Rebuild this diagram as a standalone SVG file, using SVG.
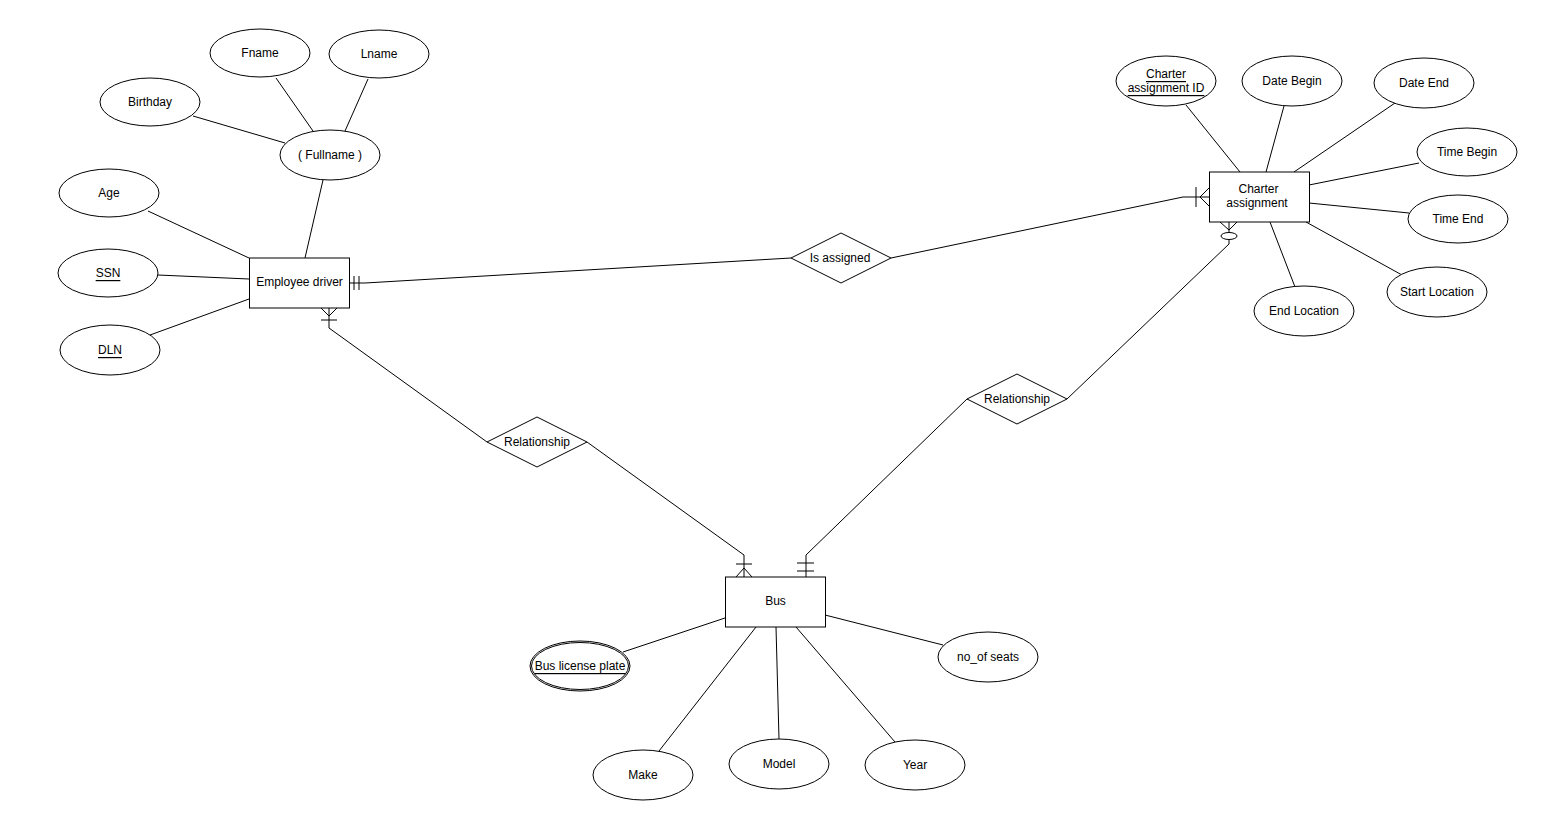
<svg xmlns="http://www.w3.org/2000/svg" width="1565" height="825" viewBox="0 0 1565 825">
<style>
.sh{fill:#fff;stroke:#000;stroke-width:1}
.ln{fill:none;stroke:#000;stroke-width:1}
.mk{fill:none;stroke:#000;stroke-width:1}
text{font-family:"Liberation Sans",Arial,Helvetica,sans-serif;font-size:12px;fill:#000;text-anchor:middle;dominant-baseline:central}
.u{text-decoration:underline}
</style>
<rect width="1565" height="825" fill="#fff"/>
<g id="connectors">
<line class="ln" x1="276" y1="78" x2="313" y2="131"/>
<line class="ln" x1="368" y1="79" x2="345" y2="131"/>
<line class="ln" x1="193" y1="116" x2="285" y2="143"/>
<line class="ln" x1="323" y1="180" x2="305" y2="258"/>
<line class="ln" x1="148" y1="211" x2="249" y2="258"/>
<line class="ln" x1="158" y1="275" x2="249" y2="279"/>
<line class="ln" x1="150" y1="335" x2="249" y2="299"/>
<line class="ln" x1="1186" y1="105" x2="1240" y2="172"/>
<line class="ln" x1="1284" y1="106" x2="1266" y2="172"/>
<line class="ln" x1="1395" y1="103" x2="1294" y2="172"/>
<line class="ln" x1="1419" y1="163" x2="1309" y2="185"/>
<line class="ln" x1="1409" y1="213" x2="1309" y2="203"/>
<line class="ln" x1="1402" y1="275" x2="1306" y2="222"/>
<line class="ln" x1="1295" y1="287" x2="1270" y2="222"/>
<line class="ln" x1="623" y1="652" x2="725" y2="618"/>
<line class="ln" x1="943" y1="645" x2="825" y2="615"/>
<line class="ln" x1="659" y1="751" x2="756" y2="627"/>
<line class="ln" x1="779" y1="739" x2="776" y2="627"/>
<line class="ln" x1="895" y1="742" x2="796" y2="627"/>
<polyline class="ln" points="349,283 365,283 791,258"/>
<line class="mk" x1="354" y1="276" x2="354" y2="290"/>
<line class="mk" x1="359" y1="276" x2="359" y2="290"/>
<polyline class="ln" points="891,258 1183,197 1209,197"/>
<line class="mk" x1="1196" y1="187" x2="1196" y2="207"/>
<polyline class="mk" points="1209,188 1200,197 1209,206"/>
<polyline class="ln" points="329,308 329,328 487,442"/>
<line class="mk" x1="321" y1="320" x2="337" y2="320"/>
<polyline class="mk" points="321,308 329,316 337,308"/>
<polyline class="ln" points="587,442 744,555 744,577"/>
<line class="mk" x1="736" y1="564" x2="752" y2="564"/>
<polyline class="mk" points="736,577 744,568 752,577"/>
<polyline class="ln" points="806,577 806,555 967,399"/>
<line class="mk" x1="797" y1="563" x2="814" y2="563"/>
<line class="mk" x1="797" y1="571" x2="814" y2="571"/>
<polyline class="ln" points="1067,399 1229,244 1229,222"/>
<polyline class="mk" points="1220,222 1229,230 1237,222"/>
<ellipse class="sh" cx="1229" cy="236" rx="8" ry="3.5"/>
</g>
<g id="employee-driver"><rect class="sh" x="249.5" y="258" width="100" height="50"/><text x="299.5" y="282">Employee driver</text></g>
<g id="charter-assignment"><rect class="sh" x="1209.5" y="172" width="100" height="50"/><text x="1258.5" y="189">Charter</text><text x="1257" y="203">assignment</text></g>
<g id="bus"><rect class="sh" x="725.5" y="577" width="100" height="50"/><text x="775.5" y="601">Bus</text></g>
<g id="is-assigned"><polygon class="sh" points="791,258 841,233 891,258 841,283"/><text x="840" y="258">Is assigned</text></g>
<g id="relationship-1"><polygon class="sh" points="487,442 537,417 587,442 537,467"/><text x="537" y="442">Relationship</text></g>
<g id="relationship-2"><polygon class="sh" points="967,399 1017,374 1067,399 1017,424"/><text x="1017" y="399">Relationship</text></g>
<g id="fname"><ellipse class="sh" cx="260" cy="53" rx="50" ry="24"/><text x="260" y="53">Fname</text></g>
<g id="lname"><ellipse class="sh" cx="379" cy="54" rx="50" ry="24"/><text x="379" y="54">Lname</text></g>
<g id="birthday"><ellipse class="sh" cx="150" cy="102" rx="50" ry="24"/><text x="150" y="102">Birthday</text></g>
<g id="fullname"><ellipse class="sh" cx="330" cy="155" rx="50" ry="25"/><text x="330" y="155">( Fullname )</text></g>
<g id="age"><ellipse class="sh" cx="109" cy="193" rx="50" ry="24"/><text x="109" y="193">Age</text></g>
<g id="ssn"><ellipse class="sh" cx="108" cy="273" rx="50" ry="24"/><text class="u" x="108" y="273">SSN</text></g>
<g id="dln"><ellipse class="sh" cx="110" cy="350" rx="50" ry="25"/><text class="u" x="110" y="350">DLN</text></g>
<g id="charter-id"><ellipse class="sh" cx="1166" cy="81" rx="50" ry="25"/><text class="u" x="1166" y="74">Charter</text><text class="u" x="1166" y="88">assignment ID</text></g>
<g id="date-begin"><ellipse class="sh" cx="1292" cy="81" rx="50" ry="25"/><text x="1292" y="81">Date Begin</text></g>
<g id="date-end"><ellipse class="sh" cx="1424" cy="83" rx="50" ry="25"/><text x="1424" y="83">Date End</text></g>
<g id="time-begin"><ellipse class="sh" cx="1467" cy="152" rx="50" ry="24"/><text x="1467" y="152">Time Begin</text></g>
<g id="time-end"><ellipse class="sh" cx="1458" cy="219" rx="50" ry="24"/><text x="1458" y="219">Time End</text></g>
<g id="start-location"><ellipse class="sh" cx="1437" cy="292" rx="50" ry="25"/><text x="1437" y="292">Start Location</text></g>
<g id="end-location"><ellipse class="sh" cx="1304" cy="311" rx="50" ry="25"/><text x="1304" y="311">End Location</text></g>
<g id="bus-license-plate"><ellipse class="sh" cx="580" cy="666" rx="50" ry="25"/><ellipse class="ln" cx="580" cy="666" rx="48.5" ry="23.5"/><text class="u" x="580" y="666">Bus license plate</text></g>
<g id="no-of-seats"><ellipse class="sh" cx="988" cy="657" rx="50" ry="25"/><text x="988" y="657">no_of seats</text></g>
<g id="make"><ellipse class="sh" cx="643" cy="775" rx="50" ry="25"/><text x="643" y="775">Make</text></g>
<g id="model"><ellipse class="sh" cx="779" cy="764" rx="50" ry="25"/><text x="779" y="764">Model</text></g>
<g id="year"><ellipse class="sh" cx="915" cy="765" rx="50" ry="25"/><text x="915" y="765">Year</text></g>
</svg>
